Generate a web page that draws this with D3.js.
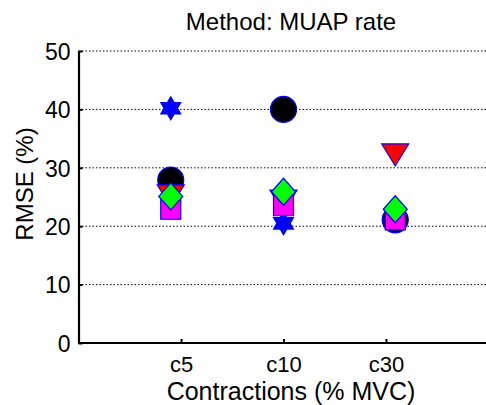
<!DOCTYPE html>
<html>
<head>
<meta charset="utf-8">
<script src="https://cdn.jsdelivr.net/npm/d3@7"></script>
<style>
  body { margin: 0; background: #fff; }
  text { font-family: 'Liberation Sans', Arial, sans-serif; fill: #000; }
</style>
</head>
<body>
<div id="chart-container"></div>
<script>
// data
const categories = ['c5', 'c10', 'c30']
const categoryX = [1, 2, 3]
const markerX = [0.9, 2.0, 3.09]
const yTicks = [0, 10, 20, 30, 40, 50]
const starVals = [40.2, 20.5, 21.0]
const circleVals = [27.9, 40.0, 21.1]
const triangleVals = [25.2, 24.3, 32.2]
const squareVals = [22.9, 23.5, 21.1]
const diamondVals = [25.1, 25.9, 22.9]

// constants
const width = 486
const height = 405
const edge = '#0000ff'

const svg = d3.select('#chart-container')
  .append('svg')
  .attr('width', width)
  .attr('height', height)

const xScale = d3.scaleLinear().domain([0, 4]).range([78.5, 488.5])
const yScale = d3.scaleLinear().domain([0, 50]).range([343, 51])

// gridlines
svg.append('g')
  .selectAll('line')
  .data(yTicks.filter(d => d > 0)).enter()
  .append('line')
  .attr('x1', xScale(0))
  .attr('x2', width)
  .attr('y1', d => yScale(d))
  .attr('y2', d => yScale(d))
  .style('stroke', '#000')
  .style('stroke-width', 1)
  .style('stroke-dasharray', '1.5,2')

// marker shapes, centred on 0,0
function hexagram (r) {
  const p = d3.path()
  for (const start of [-90, 90]) {
    for (let i = 0; i < 3; i++) {
      const a = (start + i * 120) * Math.PI / 180
      if (i === 0) p.moveTo(r * Math.cos(a), r * Math.sin(a))
      else p.lineTo(r * Math.cos(a), r * Math.sin(a))
    }
    p.closePath()
  }
  return p.toString()
}
function circlePath (r) {
  const p = d3.path()
  p.arc(0, 0, r, 0, 2 * Math.PI)
  return p.toString()
}
function triangleDown (w, h) {
  return `M${-w / 2},${-h / 2}L${w / 2},${-h / 2}L0,${h / 2}Z`
}
function squarePath (s) {
  return `M${-s / 2},${-s / 2}h${s}v${s}h${-s}Z`
}
function diamondPath (w, h) {
  return `M0,${-h / 2}L${w / 2},0L0,${h / 2}L${-w / 2},0Z`
}

const series = [
  {vals: starVals, fill: '#0000ff', d: hexagram(11.5)},
  {vals: circleVals, fill: '#000000', d: circlePath(13)},
  {vals: triangleVals, fill: '#ff0000', d: triangleDown(27, 22)},
  {vals: squareVals, fill: '#ff00ff', d: squarePath(20)},
  {vals: diamondVals, fill: '#00ff00', d: diamondPath(24, 27)}
]

series.forEach(s => {
  svg.append('g')
    .selectAll('path')
    .data(s.vals).enter()
    .append('path')
    .attr('d', s.d)
    .attr('transform', (d, i) => `translate(${xScale(markerX[i])},${yScale(d)})`)
    .style('fill', s.fill)
    .style('stroke', edge)
    .style('stroke-width', 1.2)
})

// axes
const yAxis = d3.axisLeft(yScale).tickValues(yTicks).tickSizeInner(-4).tickSizeOuter(0).tickPadding(8)
const yAxisG = svg.append('g')
  .attr('transform', `translate(${xScale(0)},0)`)
  .call(yAxis)
yAxisG.select('.domain').style('stroke-width', 2.2)
yAxisG.selectAll('.tick line').style('stroke-width', 2)
yAxisG.selectAll('.tick text')
  .style('font-size', '23px')
  .attr('dy', '0.36em')

const xAxis = d3.axisBottom(xScale).tickValues(categoryX)
  .tickFormat((d, i) => categories[i]).tickSizeInner(-4).tickSizeOuter(0).tickPadding(13)
const xAxisG = svg.append('g')
  .attr('transform', `translate(0,${yScale(0)})`)
  .call(xAxis)
xAxisG.select('.domain').attr('d', `M${xScale(0)},0H${width}`).style('stroke-width', 2.2)
xAxisG.selectAll('.tick line').style('stroke-width', 2)
xAxisG.selectAll('.tick text').style('font-size', '22px').attr('dy', '0.71em')

// labels
svg.append('text')
  .attr('x', 291)
  .attr('y', 400)
  .attr('text-anchor', 'middle')
  .style('font-size', '25px')
  .text('Contractions (% MVC)')

svg.append('text')
  .attr('transform', 'translate(33,184) rotate(-90)')
  .attr('text-anchor', 'middle')
  .style('font-size', '24px')
  .text('RMSE (%)')

svg.append('text')
  .attr('x', 291)
  .attr('y', 30)
  .attr('text-anchor', 'middle')
  .style('font-size', '24px')
  .text('Method: MUAP rate')
</script>
</body>
</html>
